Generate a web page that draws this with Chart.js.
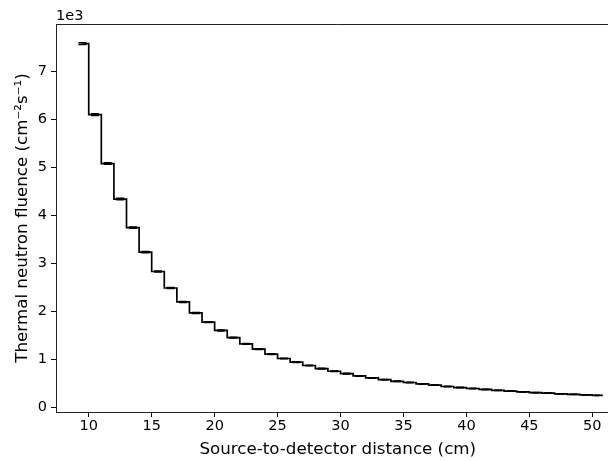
<!DOCTYPE html>
<html lang="en">
<head>
    <meta charset="UTF-8">
    <title>Thermal neutron fluence vs distance</title>
    <style>
        html, body { margin: 0; background: #fff; overflow: hidden; }
        canvas { display: block; }
    </style>
    <script src="https://cdn.jsdelivr.net/npm/chart.js"></script>
</head>
<body>
    <!-- the figure runs a little past the right edge of the window, as in the original -->
    <canvas id="chart" width="625" height="461"></canvas>

    <script>
        // Bin centres (cm) and fluence per bin (cm^-2 s^-1)
        const distance = [9.5, 10.5, 11.5, 12.5, 13.5, 14.5, 15.5, 16.5, 17.5, 18.5,
                          19.5, 20.5, 21.5, 22.5, 23.5, 24.5, 25.5, 26.5, 27.5, 28.5,
                          29.5, 30.5, 31.5, 32.5, 33.5, 34.5, 35.5, 36.5, 37.5, 38.5,
                          39.5, 40.5, 41.5, 42.5, 43.5, 44.5, 45.5, 46.5, 47.5, 48.5,
                          49.5, 50.5];
        const fluence = [7580, 6100, 5080, 4340, 3745, 3235, 2830, 2485, 2195, 1965,
                         1775, 1600, 1450, 1320, 1210, 1105, 1015, 940, 870, 805,
                         750, 700, 652, 610, 575, 540, 515, 485, 460, 432,
                         410, 390, 370, 352, 336, 320, 305, 292, 280, 268,
                         257, 248];
        const fluenceErr = [20, 18, 16, 15, 14, 13, 12, 11, 10, 10,
                            9, 9, 8, 8, 8, 7, 7, 7, 6, 6,
                            6, 6, 5, 5, 5, 5, 5, 5, 4, 4,
                            4, 4, 4, 4, 4, 4, 4, 3, 3, 3,
                            3, 3];
        const xTicks = [10, 15, 20, 25, 30, 35, 40, 45, 50];
        const yTicks = [0, 1000, 2000, 3000, 4000, 5000, 6000, 7000];

        const FONT = 'DejaVu Sans';
        const INK = '#000';
        const SPINE = '#222';
        const TICK_SIZE = 14.5;
        const TITLE_SIZE = 16.7;

        const stepData = distance.map((x, i) => ({ x: x, y: fluence[i] }));
        const capHi = distance.map((x, i) => ({ x: x, y: fluence[i] + fluenceErr[i] }));
        const capLo = distance.map((x, i) => ({ x: x, y: fluence[i] - fluenceErr[i] }));

        // top spine and the "1e3" offset label
        const extras = {
            id: 'extras',
            afterDraw(chart) {
                const ctx = chart.ctx;
                const a = chart.chartArea;
                ctx.save();
                ctx.strokeStyle = SPINE;
                ctx.lineWidth = 1;
                ctx.beginPath();
                ctx.moveTo(a.left, a.top + 0.5);
                ctx.lineTo(a.right, a.top + 0.5);
                ctx.stroke();
                ctx.fillStyle = INK;
                ctx.font = TICK_SIZE + 'px "' + FONT + '"';
                ctx.textAlign = 'left';
                ctx.textBaseline = 'alphabetic';
                ctx.fillText('1e3', a.left, a.top - 4);
                ctx.restore();
            }
        };

        const capStyle = {
            type: 'scatter',
            showLine: false,
            pointStyle: 'line',
            pointRadius: 4,
            pointBorderWidth: 1.5,
            borderColor: INK,
            backgroundColor: INK
        };

        new Chart(document.getElementById('chart'), {
            type: 'line',
            data: {
                datasets: [
                    {
                        label: 'fluence',
                        data: stepData,
                        stepped: 'middle',
                        borderColor: INK,
                        borderWidth: 1.7,
                        pointRadius: 0,
                        fill: false
                    },
                    Object.assign({ label: 'upper', data: capHi }, capStyle),
                    Object.assign({ label: 'lower', data: capLo }, capStyle)
                ]
            },
            options: {
                responsive: false,
                animation: false,
                layout: { padding: { top: 24, left: 0, right: 0, bottom: 0 } },
                plugins: {
                    legend: { display: false },
                    tooltip: { enabled: false }
                },
                scales: {
                    x: {
                        type: 'linear',
                        min: 7.4,
                        max: 52.16,
                        afterBuildTicks: axis => { axis.ticks = xTicks.map(v => ({ value: v })); },
                        afterFit: axis => { axis.height = 49; },
                        grid: { display: true, drawOnChartArea: false, color: INK, tickLength: 5 },
                        border: { display: true, color: SPINE, width: 1 },
                        ticks: { color: INK, font: { family: FONT, size: TICK_SIZE }, padding: 1, maxRotation: 0 },
                        title: {
                            display: true,
                            text: 'Source-to-detector distance (cm)',
                            color: INK,
                            font: { family: FONT, size: TITLE_SIZE },
                            padding: { top: 0, bottom: 1 }
                        }
                    },
                    y: {
                        type: 'linear',
                        min: -100,
                        max: 7990,
                        afterBuildTicks: axis => { axis.ticks = yTicks.map(v => ({ value: v })); },
                        afterFit: axis => { axis.width = 56; },
                        grid: { display: true, drawOnChartArea: false, color: INK, tickLength: 5 },
                        border: { display: true, color: SPINE, width: 1 },
                        ticks: {
                            color: INK,
                            font: { family: FONT, size: TICK_SIZE },
                            padding: 4,
                            callback: v => String(v / 1000)
                        },
                        title: {
                            display: true,
                            text: 'Thermal neutron fluence (cm\u207B\u00B2s\u207B\u00B9)',
                            color: INK,
                            font: { family: FONT, size: TITLE_SIZE },
                            padding: { top: 13, bottom: 0 }
                        }
                    }
                }
            },
            plugins: [extras]
        });
    </script>
</body>
</html>
